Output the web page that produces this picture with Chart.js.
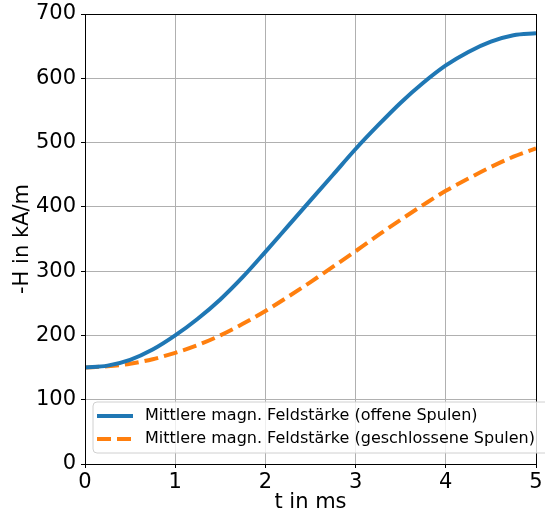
<!DOCTYPE html>
<html>
<head>
<meta charset="utf-8">
<script src="https://cdn.jsdelivr.net/npm/chart.js@4.4.0/dist/chart.umd.min.js"></script>
<style>
  html, body { margin: 0; padding: 0; background: #fff; }
  #wrap { width: 545px; height: 516px; }
</style>
</head>
<body>
<div id="wrap"><canvas id="c" width="545" height="516"></canvas></div>
<script>
// Data
const tValues = [0, 0.25, 0.5, 0.75, 1, 1.25, 1.5, 1.75, 2, 2.25, 2.5, 2.75, 3, 3.25, 3.5, 3.75, 4, 4.25, 4.5, 4.75, 5];
const hOffen = [150, 153, 162, 178, 200, 226, 256, 291, 330, 370, 410, 450, 490, 527, 562, 593, 620, 641, 657, 667, 670];
const hGeschlossen = [150, 152, 156, 163, 173, 185, 200, 218, 238, 260, 283, 307, 331, 356, 380, 403, 425, 444, 462, 478, 491];
const xTicks = [0, 1, 2, 3, 4, 5];
const yTicks = [0, 100, 200, 300, 400, 500, 600, 700];
const seriesNames = ['Mittlere magn. Feldstärke (offene Spulen)', 'Mittlere magn. Feldstärke (geschlossene Spulen)'];
const xTitle = 't in ms';
const yTitle = '-H in kA/m';

const FONT = 'DejaVu Sans';

const toPoints = (xs, ys) => xs.map((x, i) => ({ x: x, y: ys[i] }));

const framePlugin = {
  id: 'frame',
  afterDatasetsDraw(chart) {
    const a = chart.chartArea, ctx = chart.ctx;
    ctx.save();
    ctx.strokeStyle = '#000';
    ctx.lineWidth = 1;
    ctx.strokeRect(Math.round(a.left) + 0.5, Math.round(a.top) + 0.5, Math.round(a.right - a.left), Math.round(a.bottom - a.top));
    ctx.restore();
  }
};

const legendPlugin = {
  id: 'insideLegend',
  afterDraw(chart) {
    const ctx = chart.ctx;
    const a = chart.chartArea;
    ctx.save();
    const boxL = a.left + 8, boxT = 402, boxB = 453, boxR = 560;
    const r = 4;
    ctx.beginPath();
    ctx.moveTo(boxL + r, boxT);
    ctx.lineTo(boxR - r, boxT);
    ctx.quadraticCurveTo(boxR, boxT, boxR, boxT + r);
    ctx.lineTo(boxR, boxB - r);
    ctx.quadraticCurveTo(boxR, boxB, boxR - r, boxB);
    ctx.lineTo(boxL + r, boxB);
    ctx.quadraticCurveTo(boxL, boxB, boxL, boxB - r);
    ctx.lineTo(boxL, boxT + r);
    ctx.quadraticCurveTo(boxL, boxT, boxL + r, boxT);
    ctx.closePath();
    ctx.fillStyle = 'rgba(255,255,255,0.8)';
    ctx.fill();
    ctx.strokeStyle = '#d0d0d0';
    ctx.lineWidth = 1;
    ctx.stroke();

    const rows = [416, 439];
    chart.data.datasets.forEach((ds, i) => {
      const y = rows[i];
      ctx.beginPath();
      ctx.setLineDash(ds.borderDash || []);
      ctx.lineDashOffset = 0;
      ctx.strokeStyle = ds.borderColor;
      ctx.lineWidth = ds.borderWidth;
      ctx.lineCap = 'butt';
      ctx.moveTo(97, y);
      ctx.lineTo(133, y);
      ctx.stroke();
      ctx.setLineDash([]);
      ctx.fillStyle = '#000';
      ctx.font = '16px "' + FONT + '"';
      ctx.textBaseline = 'middle';
      ctx.textAlign = 'left';
      ctx.fillText(ds.label, 145, y);
    });
    ctx.restore();
  }
};

new Chart(document.getElementById('c'), {
  type: 'line',
  data: {
    datasets: [
      {
        label: seriesNames[0],
        data: toPoints(tValues, hOffen),
        borderColor: '#1f77b4',
        backgroundColor: '#1f77b4',
        borderWidth: 4,
        pointRadius: 0,
        cubicInterpolationMode: 'monotone',
        fill: false
      },
      {
        label: seriesNames[1],
        data: toPoints(tValues, hGeschlossen),
        borderColor: '#ff7f0e',
        backgroundColor: '#ff7f0e',
        borderWidth: 4,
        borderDash: [14, 6],
        pointRadius: 0,
        cubicInterpolationMode: 'monotone',
        fill: false
      }
    ]
  },
  options: {
    responsive: false,
    animation: false,
    devicePixelRatio: 1,
    layout: { padding: { top: 14, right: 9, left: 0, bottom: 0 } },
    plugins: {
      legend: { display: false },
      tooltip: { enabled: false }
    },
    scales: {
      x: {
        type: 'linear',
        min: 0, max: 5,
        afterFit(scale) { scale.height = 52; scale.paddingLeft = 0; scale.paddingRight = 0; },
        afterBuildTicks(scale) { scale.ticks = xTicks.map(v => ({ value: v })); },
        ticks: {
          color: '#000',
          font: { family: FONT, size: 21 },
          padding: 2,
          maxRotation: 0,
          callback: v => String(v)
        },
        grid: { color: '#b0b0b0', lineWidth: 1, tickColor: '#000', tickLength: 4 },
        border: { color: '#000', width: 1 },
        title: {
          display: true, text: xTitle, color: '#000',
          font: { family: FONT, size: 21 },
          padding: { top: 0, bottom: 1 }
        }
      },
      y: {
        type: 'linear',
        min: 0, max: 700,
        afterFit(scale) { scale.width = 85; scale.paddingTop = 0; scale.paddingBottom = 0; },
        afterBuildTicks(scale) { scale.ticks = yTicks.map(v => ({ value: v })); },
        ticks: {
          color: '#000',
          font: { family: FONT, size: 21 },
          padding: 5,
          callback: v => String(v)
        },
        grid: { color: '#b0b0b0', lineWidth: 1, tickColor: '#000', tickLength: 4 },
        border: { color: '#000', width: 1 },
        title: {
          display: true, text: yTitle, color: '#000',
          font: { family: FONT, size: 21 },
          padding: { top: 10, bottom: 4 }
        }
      }
    }
  },
  plugins: [framePlugin, legendPlugin]
});
</script>
</body>
</html>
